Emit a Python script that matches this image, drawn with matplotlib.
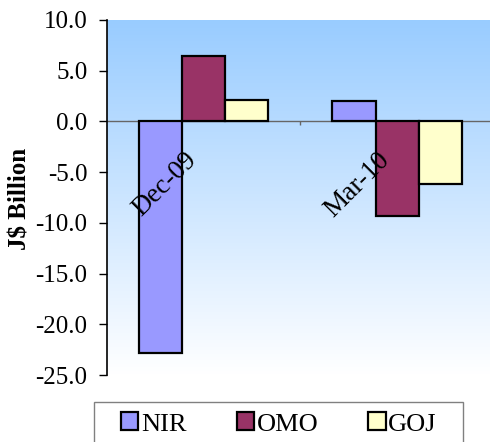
import numpy as np
import matplotlib
matplotlib.use('Agg')
import matplotlib.pyplot as plt
from matplotlib.colors import LinearSegmentedColormap
from matplotlib.patches import Rectangle

categories = ['Dec-09', 'Mar-10']
series = ['NIR', 'OMO', 'GOJ']
nir = [-22.8, 2.05]
omo = [6.45, -9.35]
goj = [2.1, -6.15]
colors = ['#9999FF', '#993366', '#FFFFCC']
yticks = [10, 5, 0, -5, -10, -15, -20, -25]

plt.rcParams['font.family'] = ['Liberation Serif', 'DejaVu Serif']

fig = plt.figure(figsize=(4.9, 4.42), dpi=100)
ax = fig.add_axes([107/490, 67/442, 383/490, 355/442])

# gradient background, light blue to white
grad = LinearSegmentedColormap.from_list('bg', ['#99CCFF', '#FFFFFF'])
ax.imshow(np.linspace(0, 1, 256).reshape(-1, 1), cmap=grad, aspect='auto',
          extent=[0, 1, 0, 1], transform=ax.transAxes, zorder=0)

x = np.arange(len(categories))
w = 0.223
for i, (name, vals) in enumerate(zip(series, [nir, omo, goj])):
    ax.bar(x + (i - 1) * w, vals, w, color=colors[i], edgecolor='black',
           linewidth=1.6, label=name, zorder=3)

ax.axhline(0, color='#666666', lw=1.0, zorder=2)
ax.vlines([0.5], -0.4, 0, color='#666666', lw=1.0, zorder=2)

for xi, c in zip(x, categories):
    ax.annotate(c, xy=(xi, 0), xytext=(-1.5, -19), textcoords='offset points',
                ha='right', va='top', rotation=45, fontsize=19.5, zorder=4)

ax.set_xlim(-0.5, 1.48)
ax.set_ylim(-25, 10)
ax.set_xticks([])
ax.set_yticks(yticks)
ax.set_yticklabels([f'{v:.1f}' for v in yticks])
ax.tick_params(axis='y', length=6, width=1, pad=8, labelsize=18)
for s in ['top', 'right', 'bottom']:
    ax.spines[s].set_visible(False)
ax.spines['left'].set_linewidth(1.2)

fig.text(20/490, 1 - 199/442, 'J$ Billion', rotation=90, ha='center',
         va='center', fontsize=18, fontweight='bold')

# legend frame drawn separately so its box can be wider than the entries
fig.patches.append(Rectangle((94/490, -0.05), 369/490, 0.05 + 40/442,
                             transform=fig.transFigure, facecolor='white',
                             edgecolor='#808080', lw=1.0))
leg = fig.legend(loc='center', bbox_to_anchor=(279/490, 1 - 424/442),
                 ncol=3, fontsize=19, frameon=False,
                 handlelength=0.65, handleheight=0.65,
                 handletextpad=0.1, columnspacing=1.9, borderpad=0)

fig.savefig('out.png', dpi=100)
